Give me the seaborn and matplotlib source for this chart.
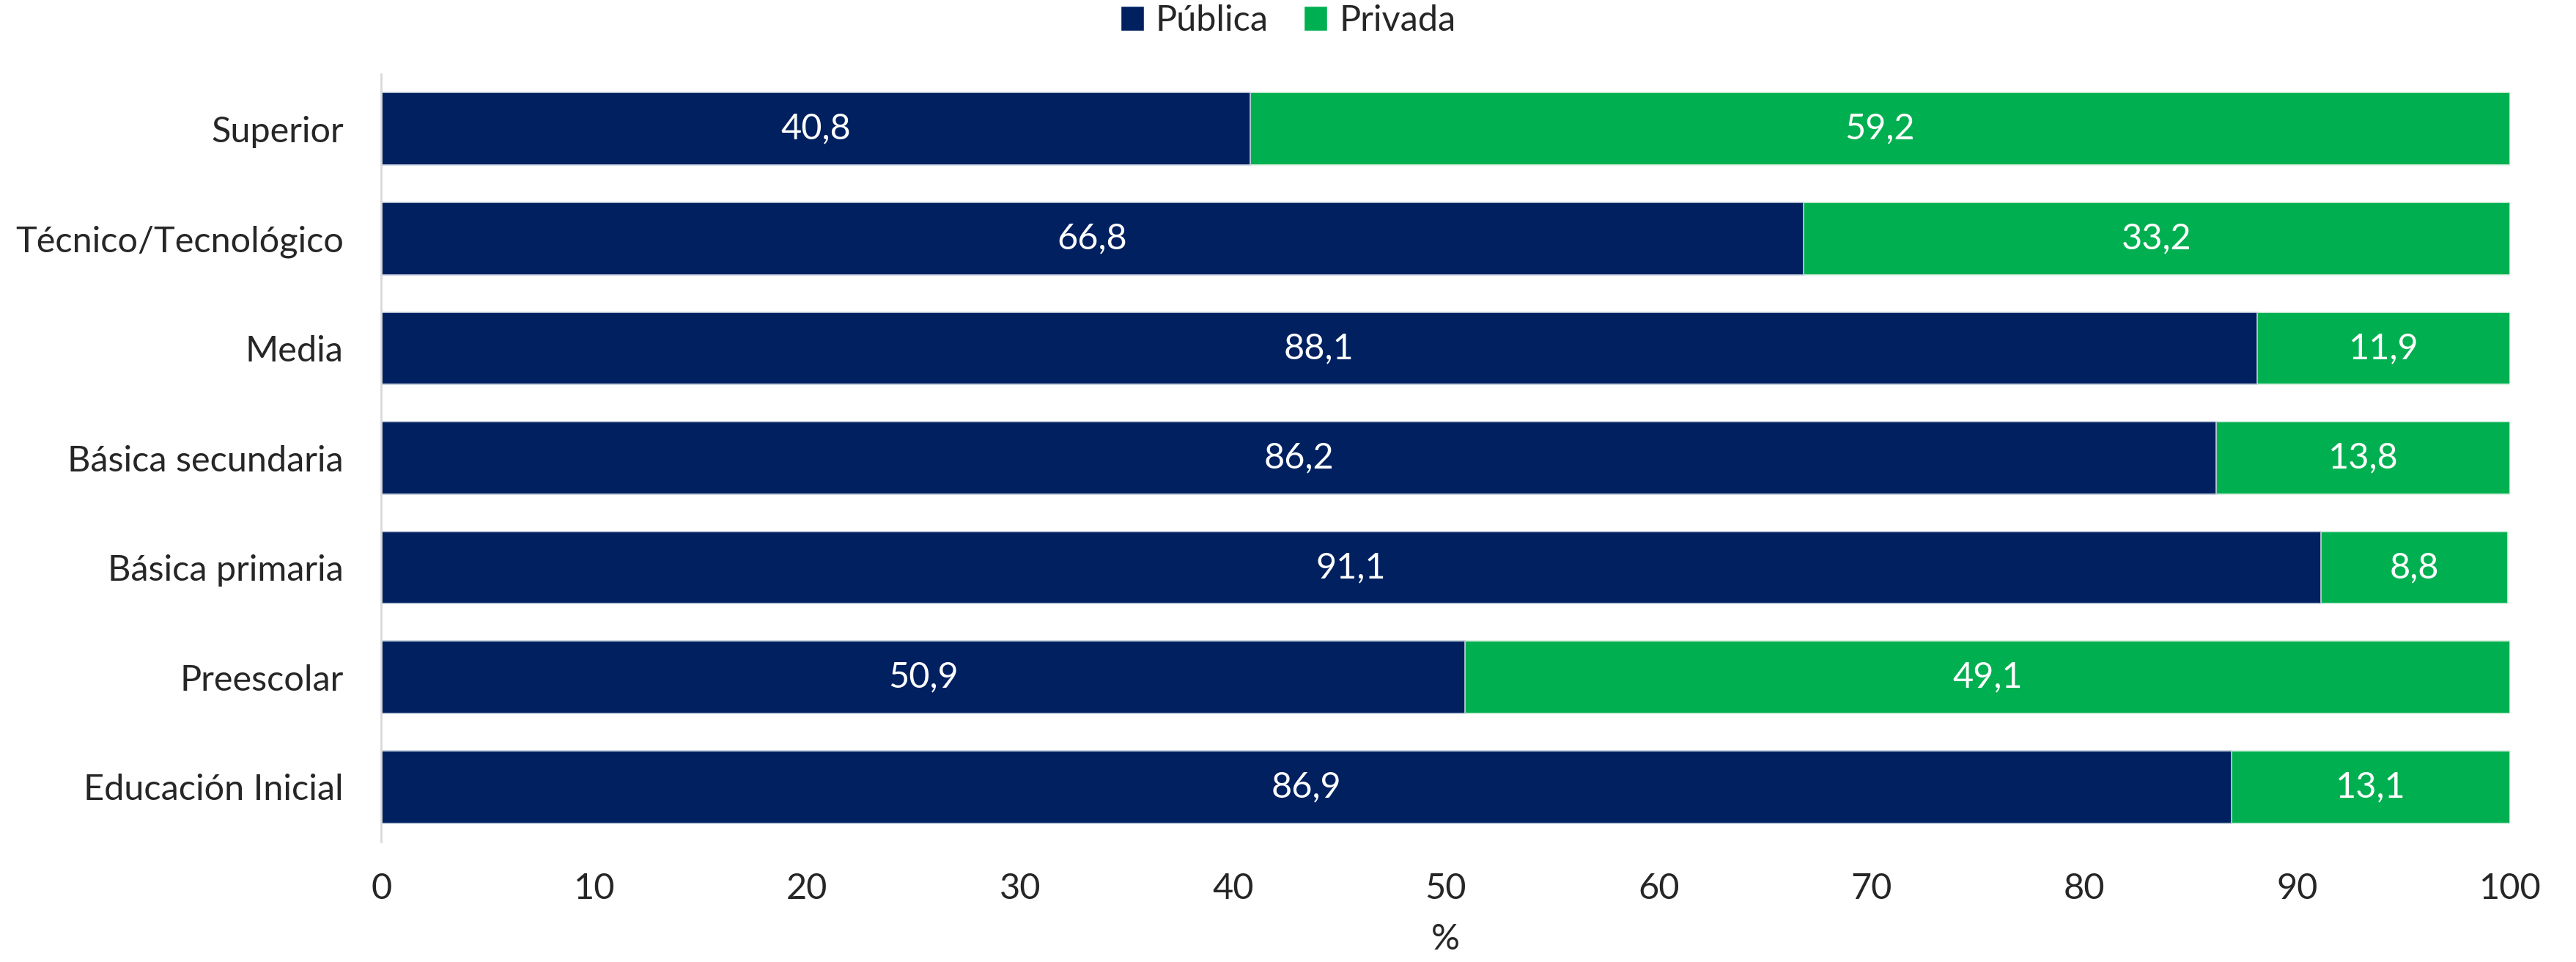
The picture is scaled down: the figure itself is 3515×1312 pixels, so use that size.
import matplotlib
matplotlib.use("Agg")
import matplotlib.pyplot as plt
import numpy as np
import pandas as pd
import seaborn as sns
from matplotlib.patches import Patch

# data
niveles = ['Superior', 'Técnico/Tecnológico', 'Media', 'Básica secundaria',
           'Básica primaria', 'Preescolar', 'Educación Inicial']
publica = [40.8, 66.8, 88.1, 86.2, 91.1, 50.9, 86.9]
privada = [59.2, 33.2, 11.9, 13.8, 8.8, 49.1, 13.1]

azul = '#002060'
verde = '#00B050'

df = pd.DataFrame({'Nivel': niveles, 'Pública': publica, 'Privada': privada})
df['Total'] = df['Pública'] + df['Privada']

sns.set_style('white')
plt.rcParams['font.family'] = ['Lato', 'DejaVu Sans']
fs = 35

fig = plt.figure(figsize=(35.15, 13.12), dpi=100)
ax = fig.add_axes([0.148, 0.125, 0.8265, 0.798])

# stacked bars: total (green) underneath, public (navy) on top
sns.barplot(data=df, y='Nivel', x='Total', color=verde, orient='h', width=0.66,
            edgecolor='#d9f0e0', linewidth=1.2, saturation=1, ax=ax)
sns.barplot(data=df, y='Nivel', x='Pública', color=azul, orient='h', width=0.66,
            edgecolor='#c8d0e0', linewidth=1.2, saturation=1, ax=ax)

# segment labels
for i, (p, q) in enumerate(zip(df['Pública'], df['Privada'])):
    ax.text(p / 2, i, f'{p:.1f}'.replace('.', ','), ha='center', va='center',
            color='white', fontsize=fs)
    ax.text(p + q / 2, i, f'{q:.1f}'.replace('.', ','), ha='center', va='center',
            color='white', fontsize=fs)

ax.set_xlim(0, 100)
ax.set_ylim(6.5, -0.5)
ax.set_xticks(np.arange(0, 101, 10))
ax.tick_params(axis='x', length=0, pad=30, labelsize=fs)
ax.tick_params(axis='y', length=0, pad=37, labelsize=fs)
ax.set_ylabel('')
ax.set_xlabel('%', fontsize=fs, labelpad=18)

for s in ['top', 'right', 'bottom']:
    ax.spines[s].set_visible(False)
ax.spines['left'].set_color('#d9d9d9')
ax.spines['left'].set_linewidth(2)

handles = [Patch(facecolor=azul, label='Pública'), Patch(facecolor=verde, label='Privada')]
fig.legend(handles=handles, loc='center', bbox_to_anchor=(0.5, 1 - 28 / 1312), ncol=2,
           frameon=False, fontsize=fs, handlelength=0.66, handleheight=0.72,
           handletextpad=0.33, columnspacing=1.0)

fig.savefig('out.png', dpi=100)
